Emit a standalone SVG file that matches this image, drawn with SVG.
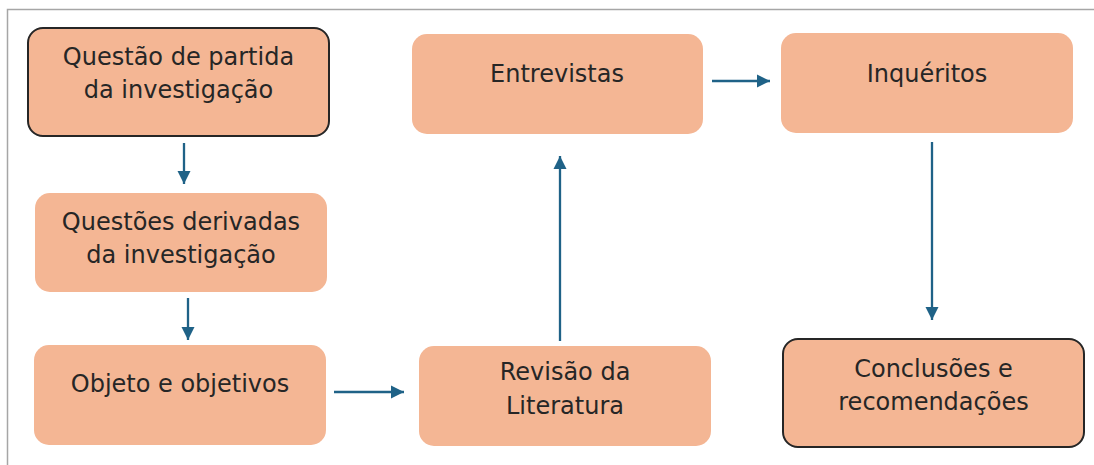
<svg xmlns="http://www.w3.org/2000/svg" width="1094" height="465" viewBox="0 0 1094 465">
<defs>
<style>
.box{fill:#F4B694;}
.dark{stroke:#262626;stroke-width:2;}
.t{font-family:"DejaVu Sans",Verdana,sans-serif;font-size:24px;fill:#262626;text-anchor:middle;}
.c{stroke:#1F6287;stroke-width:2.3;fill:none;marker-end:url(#ah);}
</style>
<marker id="ah" markerUnits="userSpaceOnUse" markerWidth="13" markerHeight="14" viewBox="0 0 13 14" refX="13" refY="7" orient="auto">
<path d="M0,0.5 L13,7 L0,13.5 Z" fill="#1F6287"/>
</marker>
</defs>
<rect width="1094" height="465" fill="#FFFFFF"/>
<path d="M7.5,465 L7.5,9.5 L1094,9.5" fill="none" stroke="#A6A6A6" stroke-width="1.5"/>
<g id="connectors">
<line class="c" x1="184" y1="143" x2="184" y2="184"/>
<line class="c" x1="188" y1="298" x2="188" y2="340"/>
<line class="c" x1="334" y1="392" x2="404" y2="392"/>
<line class="c" x1="560" y1="341" x2="560" y2="156"/>
<line class="c" x1="712" y1="81" x2="770" y2="81"/>
<line class="c" x1="932" y1="142" x2="932" y2="320"/>
</g>
<g id="n1">
<rect class="box dark" x="28" y="28" width="301" height="108" rx="15"/>
<text class="t" x="178.5" y="65">Questão de partida</text>
<text class="t" x="178.5" y="98">da investigação</text>
</g>
<g id="n2">
<rect class="box" x="35" y="193" width="292" height="99" rx="15"/>
<text class="t" x="181" y="230">Questões derivadas</text>
<text class="t" x="181" y="263">da investigação</text>
</g>
<g id="n3">
<rect class="box" x="34" y="345" width="292" height="100" rx="15"/>
<text class="t" x="180" y="392">Objeto e objetivos</text>
</g>
<g id="n4">
<rect class="box" x="419" y="346" width="292" height="100" rx="15"/>
<text class="t" x="565" y="380">Revisão da</text>
<text class="t" x="565" y="414">Literatura</text>
</g>
<g id="n5">
<rect class="box" x="412" y="34" width="291" height="100" rx="15"/>
<text class="t" x="557" y="82">Entrevistas</text>
</g>
<g id="n6">
<rect class="box" x="781" y="33" width="292" height="100" rx="15"/>
<text class="t" x="927" y="82">Inquéritos</text>
</g>
<g id="n7">
<rect class="box dark" x="783" y="339" width="301" height="108" rx="15"/>
<text class="t" x="933.5" y="377">Conclusões e</text>
<text class="t" x="933.5" y="410">recomendações</text>
</g>
</svg>
